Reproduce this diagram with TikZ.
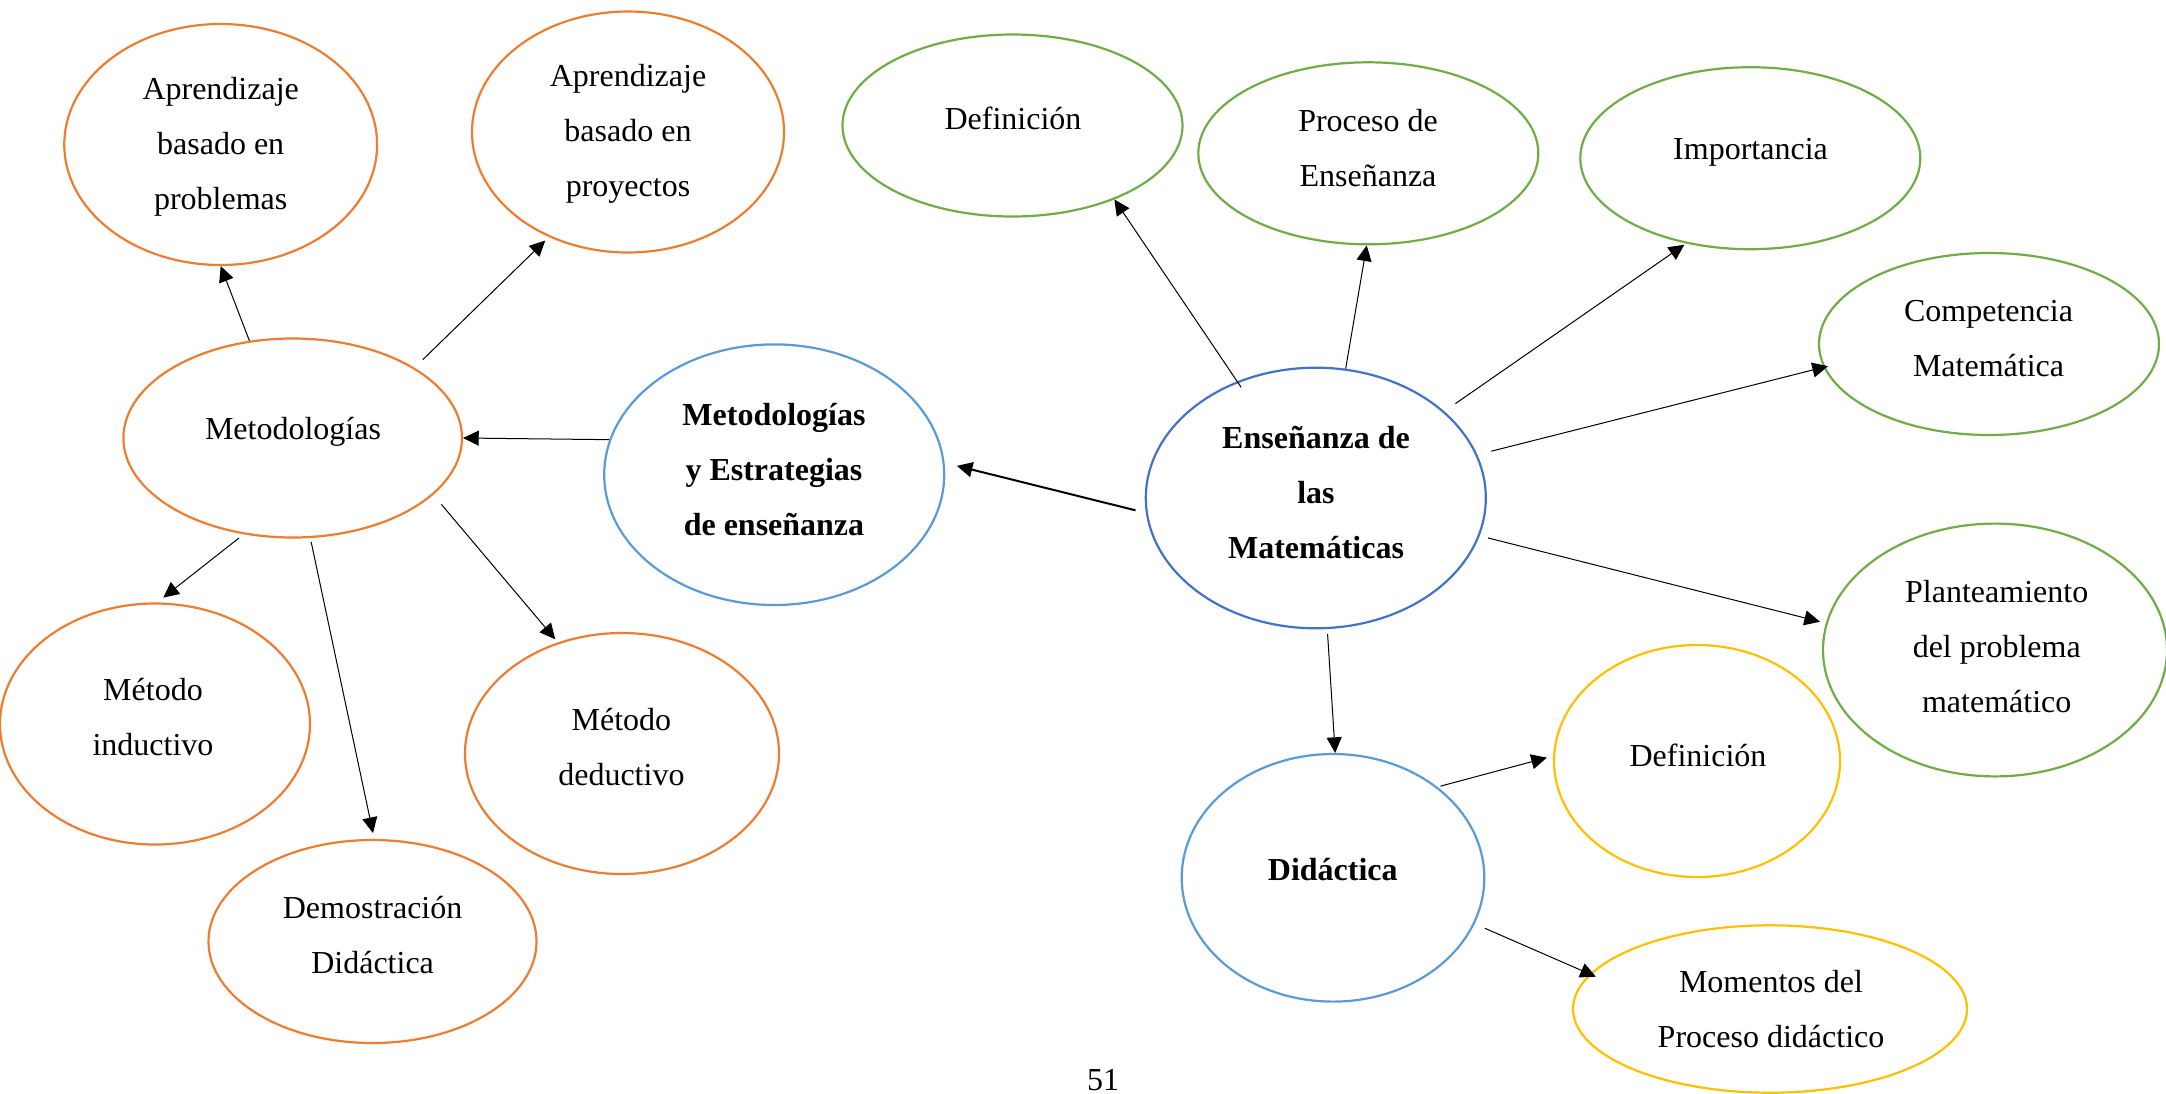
\documentclass[tikz,border=0pt]{standalone}
\usepackage{fontspec}
\setmainfont{Liberation Serif}
\usetikzlibrary{shapes.geometric,arrows.meta}
\definecolor{orng}{HTML}{ED7D31}
\definecolor{grn}{HTML}{70AD47}
\definecolor{lblue}{HTML}{5B9BD5}
\definecolor{dblue}{HTML}{4472C4}
\definecolor{ylw}{HTML}{FFC000}
\begin{document}
\begin{tikzpicture}[x=0.5pt,y=-0.5pt,
  ell/.style n args={3}{ellipse, draw=#3, line width=1.1pt, inner sep=0pt, minimum width=#1pt, minimum height=#2pt},
  txt/.style={align=center, font=\fontsize{16}{27.5}\selectfont, inner sep=0pt},
  bt/.style={align=center, font=\fontsize{16}{27.5}\selectfont\bfseries, inner sep=0pt},
  arr/.style={-{Triangle[length=7.8pt,width=7.5pt]}, line width=0.5pt},
]
\useasboundingbox (0,0) rectangle (2166,1093);
\fill[white] (0,0) rectangle (2166,1093);

% ellipses
\node[ell={156.4}{120.5}{orng}] (apb) at (220.7,144.5) {};
\node[ell={156}{120.5}{orng}] (apy) at (628,132) {};
\node[ell={170}{91}{grn}] (def1) at (1012.5,125.5) {};
\node[ell={170}{91}{grn}] (pro) at (1368.3,153.3) {};
\node[ell={170}{91}{grn}] (imp) at (1750.3,158.2) {};
\node[ell={170}{91}{grn}] (com) at (1989,344) {};
\node[ell={169.3}{99.5}{orng}] (met) at (292.7,438) {};
\node[ell={170}{130.3}{lblue}] (mye) at (774.2,474.7) {};
\node[ell={170}{130.3}{dblue}] (ens) at (1315.8,498) {};
\node[ell={172}{126.4}{grn}] (pla) at (1995,650) {};
\node[ell={155}{120.5}{orng}] (ind) at (155,724) {};
\node[ell={157}{120.5}{orng}] (ded) at (622,753.5) {};
\node[ell={164}{101.5}{orng}] (dem) at (372.5,941.5) {};
\node[ell={151.3}{123.8}{lblue}] (did) at (1333,877.8) {};
\node[ell={143}{116}{ylw}] (def2) at (1697,761) {};
\node[ell={197}{83.7}{ylw}] (mom) at (1770,1009) {};

% texts
\node[txt] (t-apb) at (220.7,147) {Aprendizaje\\basado en\\problemas};
\node[txt] (t-apy) at (628,134) {Aprendizaje\\basado en\\proyectos};
\node[txt] (t-def1) at (1013,118) {Definición};
\node[txt] (t-pro) at (1368,148) {Proceso de\\Enseñanza};
\node[txt] (t-imp) at (1750.5,152) {Importancia};
\node[txt] (t-com) at (1988.5,339) {Competencia\\Matemática};
\node[txt] (t-met) at (293,432) {Metodologías};
\node[bt] (t-mye) at (774,470) {Metodologías\\y Estrategias\\de enseñanza};
\node[bt] (t-ens) at (1316,492.5) {Enseñanza de\\las\\Matemáticas};
\node[txt] (t-pla) at (1996.7,646.7) {Planteamiento\\del problema\\matemático};
\node[txt] (t-ind) at (153,717) {Método\\inductivo};
\node[txt] (t-ded) at (621.4,747) {Método\\deductivo};
\node[txt] (t-dem) at (372.6,935) {Demostración\\Didáctica};
\node[bt] (t-did) at (1332.8,870) {Didáctica};
\node[txt] (t-def2) at (1698,755) {Definición};
\node[txt] (t-mom) at (1771,1009) {Momentos del\\Proceso didáctico};
\node[txt, anchor=base] (pg) at (1103,1090) {51};

% connectors
\draw[arr] (met.114) -- (apb.-90);
\draw[arr, shorten <=5.8pt, shorten >=2.5pt] (met.30.6) -- (apy.-127.4);
\draw[arr] (mye.168.8) -- (met.0);
\draw[arr, line width=1pt, shorten <=5.3pt, shorten >=6.3pt] (ens.185.7) -- (mye.4.3);
\draw[arr, shorten <=-3.6pt] (ens.124) -- (def1.-36);
\draw[arr] (ens.77.6) -- (pro.-91.5);
\draw[arr, shorten <=6.75pt, shorten >=1pt] (ens.34.6) -- (imp.-127);
\draw[arr, shorten <=7.2pt, shorten >=-2.3pt] (ens.15.8) -- (com.188.1);
\draw[arr, shorten <=4.3pt, shorten >=3pt] (ens.-13.3) -- (pla.171.1);
\draw[arr, shorten <=2.5pt] (ens.-85.4) -- (did.89);
\draw[arr, shorten <=1.5pt, shorten >=3.2pt] (did.41.1) -- (def2.178.1);
\draw[arr, shorten <=5.5pt, shorten >=-3.4pt] (did.-18.6) -- (mom.169.7);
\draw[arr, shorten <=3pt, shorten >=3.9pt] (met.-117.2) -- (ind.89.6);
\draw[arr, shorten <=2pt, shorten >=3pt] (met.-80.5) -- (dem.89.2);
\draw[arr, shorten <=6.2pt, shorten >=2pt] (met.-22) -- (ded.120.3);
\end{tikzpicture}
\end{document}
